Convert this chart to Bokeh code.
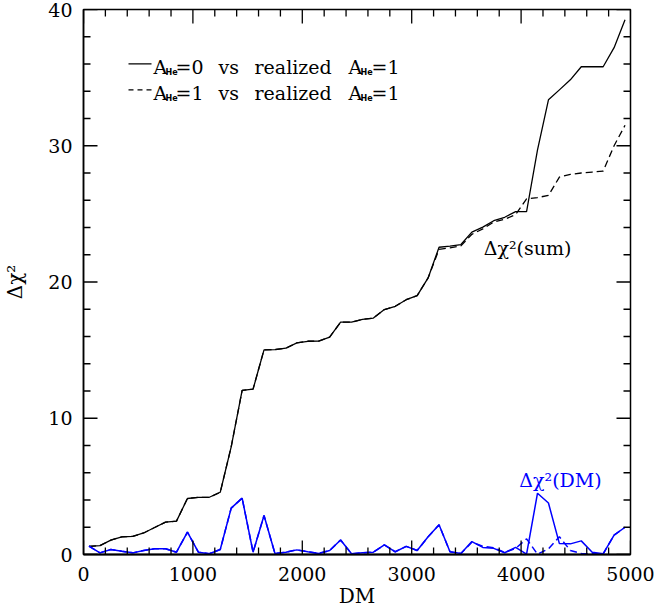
from bokeh.plotting import figure
from bokeh.models import Range1d, FixedTicker
from bokeh.core.properties import value
from bokeh.embed import file_html
from bokeh.resources import INLINE

# ---------------- data ----------------
dm = [50, 150, 250, 350, 450, 550, 650, 750, 850, 950,
      1050, 1150, 1250, 1350, 1450, 1550, 1650, 1750, 1850, 1950,
      2050, 2150, 2250, 2350, 2450, 2550, 2650, 2750, 2850, 2950,
      3050, 3150, 3250, 3350, 3450, 3550, 3650, 3750, 3850, 3950,
      4050, 4150, 4250, 4350, 4450, 4550, 4650, 4750, 4850, 4950]

# cumulative delta chi^2, A_He=0 vs realized A_He=1 (solid black)
sum_he0 = [0.6, 0.65, 1.05, 1.3, 1.33, 1.58, 1.98, 2.37, 2.45, 4.11,
           4.19, 4.2, 4.57, 7.9, 12.04, 12.14, 15.02, 15.04, 15.14, 15.53,
           15.65, 15.66, 15.95, 17.05, 17.05, 17.25, 17.35, 17.98, 18.22, 18.7,
           19.0, 20.3, 22.55, 22.63, 22.75, 23.66, 24.03, 24.5, 24.75, 25.17,
           25.17, 29.7, 33.37, 34.1, 34.84, 35.8, 35.8, 35.8, 37.2, 39.24]

# cumulative delta chi^2, A_He=1 vs realized A_He=1 (dashed black)
sum_he1 = [0.6, 0.65, 1.05, 1.3, 1.33, 1.58, 1.98, 2.37, 2.45, 4.11,
           4.19, 4.2, 4.57, 7.9, 12.04, 12.14, 15.02, 15.04, 15.14, 15.53,
           15.65, 15.66, 15.95, 17.05, 17.05, 17.25, 17.35, 17.98, 18.22, 18.7,
           19.0, 20.3, 22.4, 22.5, 22.65, 23.5, 23.9, 24.4, 24.6, 24.95,
           26.1, 26.2, 26.35, 27.7, 27.9, 28.0, 28.07, 28.14, 30.0, 31.5]

# per-bin delta chi^2 (blue), A_He=0 (solid) and A_He=1 (dashed)
dm_he0 = [0.61, 0.12, 0.37, 0.24, 0.12, 0.29, 0.42, 0.42, 0.17, 1.64,
          0.17, 0.05, 0.37, 3.4, 4.14, 0.17, 2.86, 0.07, 0.17, 0.34,
          0.2, 0.08, 0.29, 1.07, 0.05, 0.12, 0.17, 0.71, 0.2, 0.6,
          0.29, 1.3, 2.18, 0.2, 0.07, 0.95, 0.52, 0.45, 0.13, 0.52,
          0.02, 4.5, 3.78, 0.8, 0.78, 1.0, 0.16, 0.05, 1.42, 2.0]

dm_he1 = [0.61, 0.12, 0.37, 0.24, 0.12, 0.29, 0.42, 0.42, 0.17, 1.64,
          0.17, 0.05, 0.37, 3.4, 4.14, 0.17, 2.86, 0.07, 0.17, 0.34,
          0.2, 0.08, 0.29, 1.07, 0.05, 0.12, 0.17, 0.71, 0.2, 0.6,
          0.29, 1.3, 2.18, 0.2, 0.07, 0.9, 0.6, 0.5, 0.15, 0.45,
          1.15, 0.02, 0.42, 1.3, 0.3, 0.08, 0.05, 0.05, 1.42, 2.0]

x_major = [0, 1000, 2000, 3000, 4000, 5000]
x_minor = [200, 400, 600, 800, 1200, 1400, 1600, 1800, 2200, 2400, 2600, 2800,
           3200, 3400, 3600, 3800, 4200, 4400, 4600, 4800]
y_major = [0, 10, 20, 30, 40]
y_minor = [2, 4, 6, 8, 12, 14, 16, 18, 22, 24, 26, 28, 32, 34, 36, 38]

FONT = "DejaVu Serif"

# ---------------- layout ----------------
W, H = 656, 614
L, R, T, B = 83, 630, 9, 554
XMIN, XMAX, YMIN, YMAX = 0.0, 5000.0, 0.0, 40.0
DXPX = (XMAX - XMIN) / (R - L)   # data units per pixel
DYPX = (YMAX - YMIN) / (B - T)


def X(px):
    return XMIN + (px - L) * DXPX


def Y(py):
    return YMIN + (B - py) * DYPX


p = figure(width=W, height=H,
           x_range=Range1d(XMIN, XMAX), y_range=Range1d(YMIN, YMAX),
           output_backend="svg", toolbar_location=None,
           min_border_left=L, min_border_right=W - R,
           min_border_top=T, min_border_bottom=H - B)
p.grid.visible = False
p.outline_line_color = "black"
p.outline_line_width = 1.5


def style(ax):
    ax.axis_line_color = "black"
    ax.axis_line_width = 1.5
    ax.major_tick_in = 0
    ax.major_tick_out = 0
    ax.minor_tick_in = 0
    ax.minor_tick_out = 0
    ax.major_label_text_font = FONT
    ax.major_label_text_color = "black"
    ax.major_label_text_font_size = "19px"
    ax.axis_label_text_font = FONT
    ax.axis_label_text_font_style = "normal"
    ax.axis_label_text_color = "black"
    ax.axis_label_text_font_size = "20px"


bx = p.xaxis[0]
bx.ticker = FixedTicker(ticks=x_major, minor_ticks=x_minor)
style(bx)
bx.axis_line_width = 2
bx.major_label_standoff = 12
bx.axis_label = "DM"
bx.axis_label_standoff = 0

ly = p.yaxis[0]
ly.ticker = FixedTicker(ticks=y_major, minor_ticks=y_minor)
style(ly)
ly.major_label_standoff = 11
ly.axis_label = "Δχ²"
ly.axis_label_standoff = 18

# ---------------- curves ----------------
p.line(dm, sum_he0, line_color="black", line_width=1.3)
p.line(dm, sum_he1, line_color="black", line_width=1.3, line_dash="7 4")
p.line(dm, dm_he0, line_color="#0000ff", line_width=1.5)
p.line(dm, dm_he1, line_color="#0000ff", line_width=1.5, line_dash="7 4")

# ---------------- legend sample lines ----------------
p.segment(x0=[X(128)], y0=[Y(63.3)], x1=[X(151)], y1=[Y(63.3)],
          line_color="black", line_width=1.3)
p.segment(x0=[X(128)], y0=[Y(89.3)], x1=[X(153)], y1=[Y(89.3)],
          line_color="black", line_width=1.3, line_dash="5 4")

# ---------------- texts as text glyphs ----------------


def txt(pxs, pys, strings, size="19px", align="left", color="black",
        bold=False, font=FONT):
    p.text(x=[X(v) for v in pxs], y=[Y(v) for v in pys], text=strings,
           text_font=value(font), text_font_size=value(size),
           text_align=align, text_baseline="alphabetic", text_color=color,
           text_font_style="bold" if bold else "normal")


rows = (66.7, 92.7)
txt([153, 153, 348, 348], [rows[0], rows[1], rows[0], rows[1]], ["A", "A", "A", "A"])
txt([165, 165, 360, 360], [rows[0] + 5.5, rows[1] + 5.5, rows[0] + 5.5, rows[1] + 5.5],
    ["He", "He", "He", "He"], size="8px", bold=True, font="DejaVu Sans")
txt([175, 175], list(rows), ["=0", "=1"])
txt([218, 218], list(rows), ["vs", "vs"])
txt([254, 254], list(rows), ["realized", "realized"])
txt([371, 371], list(rows), ["=1", "=1"])
txt([527], [247], ["Δχ²(sum)"], align="center")
txt([560], [479], ["Δχ²(DM)"], align="center", color="#0000ff")

# ---------------- inward ticks on all four sides (drawn last) ----------------
MAJ, MIN = 14, 7
tx0, ty0, tx1, ty1 = [], [], [], []
for xs, ln in ((x_major, MAJ), (x_minor, MIN)):
    for v in xs:
        tx0 += [float(v), float(v)]
        tx1 += [float(v), float(v)]
        ty0 += [YMIN, YMAX]
        ty1 += [YMIN + ln * DYPX, YMAX - ln * DYPX]
for ys, ln in ((y_major, MAJ), (y_minor, MIN)):
    for v in ys:
        ty0 += [float(v), float(v)]
        ty1 += [float(v), float(v)]
        tx0 += [XMIN, XMAX]
        tx1 += [XMIN + ln * DXPX, XMAX - ln * DXPX]
p.segment(x0=tx0, y0=ty0, x1=tx1, y1=ty1, line_color="black", line_width=1.3)

open("out.html", "w").write(file_html(p, INLINE))
